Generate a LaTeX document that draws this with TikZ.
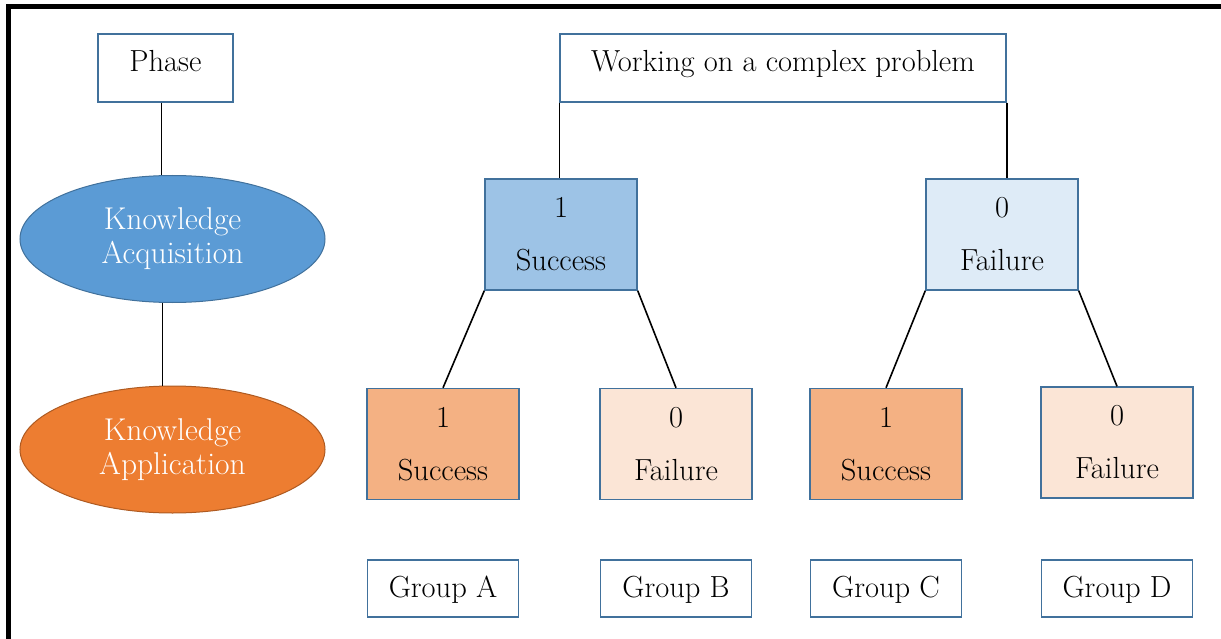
\documentclass[tikz,border=0pt]{standalone}
\usepackage{xcolor}
\usetikzlibrary{shapes.geometric}
\definecolor{boxline}{HTML}{41719C}
\definecolor{blueA}{HTML}{9DC3E6}
\definecolor{blueB}{HTML}{DEEBF7}
\definecolor{orangeA}{HTML}{F4B183}
\definecolor{orangeB}{HTML}{FBE5D6}
\definecolor{ellblue}{HTML}{5B9BD5}
\definecolor{ellorange}{HTML}{ED7D31}
\definecolor{ellorangeline}{HTML}{AE5A21}

\begin{document}
\begin{tikzpicture}[x=1pt,y=-1pt,
  box/.style={draw=boxline,line width=1.4pt,inner sep=0pt,font=\fontsize{30.5}{53}\selectfont},
  headbox/.style={box,fill=white,minimum height=68pt,text height=20pt,text depth=12pt},
  outcome/.style={box,align=center,minimum width=152pt,minimum height=111pt},
  groupbox/.style={box,fill=white,minimum width=151pt,minimum height=57pt,text height=19pt,text depth=2pt},
  phaseell/.style={ellipse,line width=1pt,inner sep=0pt,text=white,align=center,
    minimum width=305pt,minimum height=127pt,font=\fontsize{31.5}{34}\selectfont},
  link/.style={line width=1.6pt,black}]
\useasboundingbox (0,0) rectangle (1221,639);
\draw[line width=5pt] (8.5,639) -- (8.5,6.5) -- (1221,6.5);

\node[headbox,minimum width=135pt] (phase) at (165.5,68) {Phase};
\node[headbox,minimum width=446pt] (prob) at (783,68) {Working on a complex problem};
\node[phaseell,draw=boxline,fill=ellblue] (kacq) at (172.5,239) {Knowledge\\Acquisition};
\node[phaseell,draw=ellorangeline,fill=ellorange] (kapp) at (172.5,449.5) {Knowledge\\Application};

\node[outcome,fill=blueA] (succ) at (561,234.5) {1\\Success};
\node[outcome,fill=blueB] (fail) at (1002,234.5) {0\\Failure};
\node[outcome,fill=orangeA] (ssucc) at (443,444) {1\\Success};
\node[outcome,fill=orangeB] (sfail) at (676,444) {0\\Failure};
\node[outcome,fill=orangeA] (fsucc) at (886,444) {1\\Success};
\node[outcome,fill=orangeB] (ffail) at (1117,442.5) {0\\Failure};

\node[groupbox] (grpA) at (443,588.5) {Group A};
\node[groupbox] (grpB) at (676,588.5) {Group B};
\node[groupbox] (grpC) at (886,588.5) {Group C};
\node[groupbox] (grpD) at (1117,588.5) {Group D};

\draw[link] ([xshift=-4pt]phase.south) -- ([xshift=-4pt]phase.south |- kacq.north);
\draw[link] ([xshift=-10pt]kacq.south) -- ([xshift=-10pt]kapp.north);
\draw[link] (prob.south west) -- (prob.south west |- succ.north);
\draw[link] (prob.south east) -- (prob.south east |- fail.north);
\draw[link] (succ.south west) -- (ssucc.north);
\draw[link] (succ.south east) -- (sfail.north);
\draw[link] (fail.south west) -- (fsucc.north);
\draw[link] (fail.south east) -- (ffail.north);
\end{tikzpicture}
\end{document}
